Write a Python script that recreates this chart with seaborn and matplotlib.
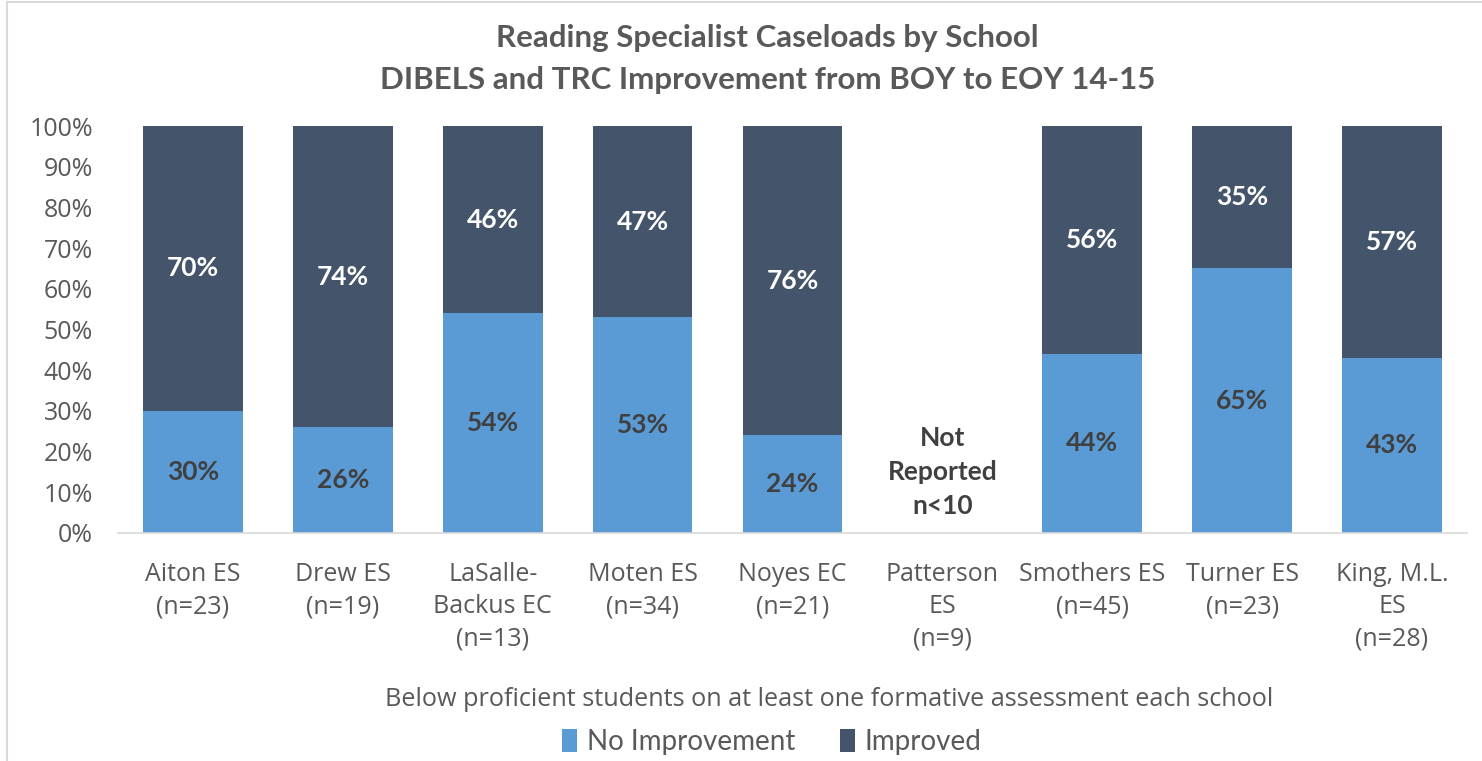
import matplotlib
matplotlib.use("Agg")
import matplotlib.pyplot as plt
import seaborn as sns
import numpy as np
import pandas as pd
from matplotlib.patches import Patch
from matplotlib.lines import Line2D

schools = ["Aiton ES\n(n=23)", "Drew ES\n(n=19)", "LaSalle-\nBackus EC\n(n=13)",
           "Moten ES\n(n=34)", "Noyes EC\n(n=21)", "Patterson\nES\n(n=9)",
           "Smothers ES\n(n=45)", "Turner ES\n(n=23)", "King, M.L.\nES\n(n=28)"]
no_improvement = [30, 26, 54, 53, 24, np.nan, 44, 65, 43]
improved = [70, 74, 46, 47, 76, np.nan, 56, 35, 57]
yticks = [0, 10, 20, 30, 40, 50, 60, 70, 80, 90, 100]

LIGHT = "#5B9BD5"
DARK = "#44546A"
TXT = "#595959"

sns.set_theme(style="white")
plt.rcParams['font.family'] = ['Open Sans', 'DejaVu Sans']

df = pd.DataFrame({"school": schools, "no": no_improvement, "imp": improved})
df["total"] = df["no"] + df["imp"]

fig = plt.figure(figsize=(14.82, 7.61), dpi=100)
ax = fig.add_axes([118/1482, 1-533/761, (1467-118)/1482, (533-126)/761])

sns.barplot(data=df, x="school", y="total", color=DARK, width=0.665, ax=ax,
            saturation=1, edgecolor="none", order=schools)
sns.barplot(data=df, x="school", y="no", color=LIGHT, width=0.665, ax=ax,
            saturation=1, edgecolor="none", order=schools)

for i, (n, m) in enumerate(zip(no_improvement, improved)):
    if np.isnan(n):
        ax.text(i, 15, "Not\nReported\nn<10", ha="center", va="center",
                fontsize=19, fontweight="bold", color="#404040",
                family=["Lato", "DejaVu Sans"], linespacing=1.5)
        continue
    ax.text(i, n/2, f"{int(n)}%", ha="center", va="center", fontsize=19,
            fontweight="bold", color="#404040", family=["Lato", "DejaVu Sans"])
    ax.text(i, n + m/2, f"{int(m)}%", ha="center", va="center", fontsize=19,
            fontweight="bold", color="white", family=["Lato", "DejaVu Sans"])

ax.set_xlim(-0.5, 8.5)
ax.set_ylim(0, 100)
ax.set_yticks(yticks)
ax.set_yticklabels([f"{t}%" for t in yticks])
ax.tick_params(axis="y", labelsize=18, colors=TXT, length=0, pad=18)
ax.tick_params(axis="x", labelsize=18, colors=TXT, length=0, pad=21)
for lab in ax.get_xticklabels():
    lab.set_linespacing(1.38)
ax.set_xlabel("")
ax.set_ylabel("")
for s in ["top", "right", "left"]:
    ax.spines[s].set_visible(False)
ax.spines["bottom"].set_color("#D9D9D9")
ax.spines["bottom"].set_linewidth(1.2)

fig.text(0.518, 1-38/761, "Reading Specialist Caseloads by School", ha="center", va="center",
         fontsize=22.5, fontweight="bold", color=TXT, family=["Lato", "DejaVu Sans"])
fig.text(0.518, 1-80/761, "DIBELS and TRC Improvement from BOY to EOY 14-15", ha="center", va="center",
         fontsize=22.5, fontweight="bold", color=TXT, family=["Lato", "DejaVu Sans"])

fig.text(829/1482, 1-700/761, "Below proficient students on at least one formative assessment each school",
         ha="center", va="center", fontsize=18.2, color=TXT)

handles = [Patch(facecolor=LIGHT, edgecolor="none", label="No Improvement"),
           Patch(facecolor=DARK, edgecolor="none", label="Improved")]
fig.legend(handles=handles, loc="center", bbox_to_anchor=(772/1482, 1-742/761), ncol=2,
           frameon=False, handlelength=0.55, handleheight=0.9,
           handletextpad=0.35, columnspacing=1.6, labelcolor=TXT,
           prop={"family": ["Lato", "DejaVu Sans"], "size": 20})

fig.add_artist(Line2D([7/1482, 7/1482], [0, 1-2/761], color="#D9D9D9", lw=1.5, transform=fig.transFigure))
fig.add_artist(Line2D([7/1482, 1], [1-2/761, 1-2/761], color="#D9D9D9", lw=1.5, transform=fig.transFigure))

fig.savefig("out.png", dpi=100)
